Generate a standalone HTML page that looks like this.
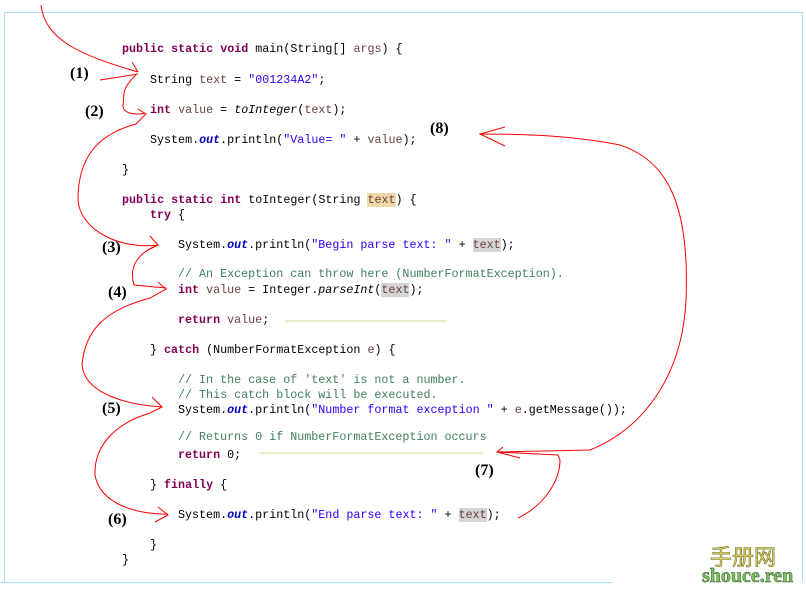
<!DOCTYPE html>
<html><head><meta charset="utf-8"><style>
body{margin:0;width:806px;height:589px;background:#fff;position:relative;overflow:hidden;font-family:"Liberation Mono",monospace}
.b{position:absolute;left:4px;top:12px;width:797px;height:569px;border:1px solid #a8dfe8;border-bottom:none;border-right:1px solid #a8dfe8}
.l{position:absolute;font-size:11.7px;white-space:pre;color:#000;line-height:14px;margin-top:1px}
.k{color:#7f0055;font-weight:bold}.v{color:#6a3e3e}.s{color:#2a00ff}.c{color:#3f7f5f}.o{color:#0000c0;font-style:italic;font-weight:bold}.i{font-style:italic}
.h{background:#d4d4d4}.hy{background:#f0d8a8}
.n{position:absolute;font-family:"Liberation Serif",serif;font-weight:bold;font-size:16px}
</style></head><body>
<div class="b"></div>
<div style="position:absolute;left:0;top:582px;width:612px;height:1px;background:#a8dfe8"></div>
<div class="l" style="left:122px;top:41px"><span class="k">public static void</span> main(String[] <span class="v">args</span>) {</div>
<div class="l" style="left:150px;top:72px">String <span class="v">text</span> = <span class="s">"001234A2"</span>;</div>
<div class="l" style="left:150px;top:102px"><span class="k">int</span> <span class="v">value</span> = <span class="i">toInteger</span>(<span class="v">text</span>);</div>
<div class="l" style="left:150px;top:132px">System.<span class="o">out</span>.println(<span class="s">"Value= "</span> + <span class="v">value</span>);</div>
<div class="l" style="left:122px;top:162px">}</div>
<div class="l" style="left:122px;top:192px"><span class="k">public static int</span> toInteger(String <span class="v hy">text</span>) {</div>
<div class="l" style="left:150px;top:207px"><span class="k">try</span> {</div>
<div class="l" style="left:178px;top:237px">System.<span class="o">out</span>.println(<span class="s">"Begin parse text: "</span> + <span class="v h">text</span>);</div>
<div class="l" style="left:178px;top:266px"><span class="c">// An Exception can throw here (NumberFormatException).</span></div>
<div class="l" style="left:178px;top:282px"><span class="k">int</span> <span class="v">value</span> = Integer.<span class="i">parseInt</span>(<span class="v h">text</span>);</div>
<div class="l" style="left:178px;top:312px"><span class="k">return</span> <span class="v">value</span>;</div>
<div class="l" style="left:150px;top:342px">} <span class="k">catch</span> (NumberFormatException <span class="v">e</span>) {</div>
<div class="l" style="left:178px;top:372px"><span class="c">// In the case of 'text' is not a number.</span></div>
<div class="l" style="left:178px;top:387px"><span class="c">// This catch block will be executed.</span></div>
<div class="l" style="left:178px;top:402px">System.<span class="o">out</span>.println(<span class="s">"Number format exception "</span> + <span class="v">e</span>.getMessage());</div>
<div class="l" style="left:178px;top:429px"><span class="c">// Returns 0 if NumberFormatException occurs</span></div>
<div class="l" style="left:178px;top:447px"><span class="k">return</span> 0;</div>
<div class="l" style="left:150px;top:477px">} <span class="k">finally</span> {</div>
<div class="l" style="left:178px;top:507px">System.<span class="o">out</span>.println(<span class="s">"End parse text: "</span> + <span class="v h">text</span>);</div>
<div class="l" style="left:150px;top:537px">}</div>
<div class="l" style="left:122px;top:552px">}</div>
<div class="n" style="left:70px;top:65px">(1)</div>
<div class="n" style="left:85px;top:103px">(2)</div>
<div class="n" style="left:102px;top:239px">(3)</div>
<div class="n" style="left:108px;top:284px">(4)</div>
<div class="n" style="left:102px;top:400px">(5)</div>
<div class="n" style="left:108px;top:511px">(6)</div>
<div class="n" style="left:475px;top:462px">(7)</div>
<div class="n" style="left:430px;top:120px">(8)</div>
<svg width="806" height="589" style="position:absolute;left:0;top:0" fill="none" stroke="#f00" stroke-width="1">
<line x1="285" y1="321" x2="447" y2="321" stroke="#c8e090"/>
<line x1="260" y1="453" x2="483" y2="453" stroke="#c8e090"/>
<path d="M41 5 C45 40 80 55 138 72 M100 80 L138 74 M132 62 L138 72"/>
<path d="M136 75 C120 90 125 95 123 105 C122 115 140 115 145 113 M138 109 L146 114 L136 124 C95 135 78 160 78 200 C80 230 120 250 158 245 M150 236 L158 245 L148 250"/>
<path d="M158 245 C140 252 128 265 134 285 L166 288 M158 282 L166 289 L150 298 C105 310 85 330 82 365 C85 395 130 405 162 407 M152 397 L162 407 L150 413 C110 425 94 450 95 475 C100 505 140 515 168 514 M158 507 L168 515 L155 522"/>
<path d="M518 518 C545 505 560 480 560 460 L558 455 L497 452 M503 447 L497 452 L520 458 M497 452 L590 450 C640 430 682 380 686 300 C690 200 665 160 620 145 C570 135 520 134 480 134 M505 127 L480 134 L505 146"/>
</svg>
<div style="position:absolute;left:710px;top:540px;font-family:'WenQuanYi Zen Hei','Noto Sans CJK SC',sans-serif;font-size:22px;color:#e8e070;-webkit-text-stroke:0.6px #6a6a20">手册网</div>
<div style="position:absolute;left:702px;top:566px;font-family:'Liberation Serif',serif;font-weight:bold;font-size:20px;line-height:20px;color:#80c060;-webkit-text-stroke:0.5px #2a5a20">shouce.ren</div>
</body></html>
